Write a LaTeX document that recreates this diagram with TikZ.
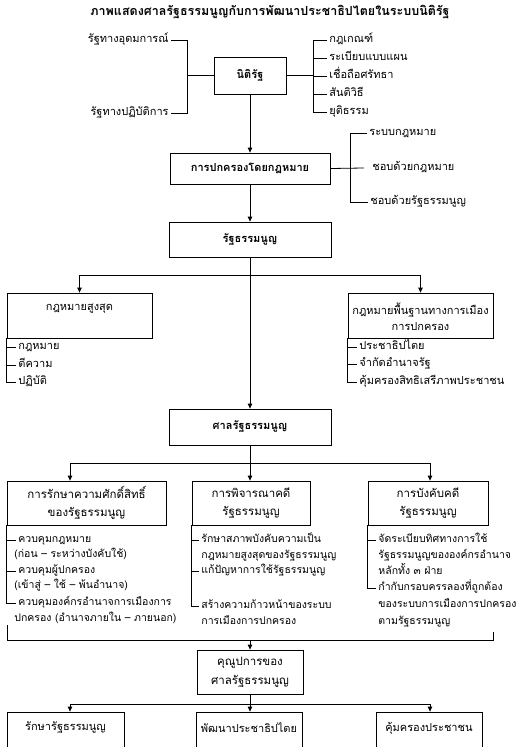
\documentclass[tikz,border=0pt]{standalone}
\usepackage{fontspec}
\newfontfamily\thai[Script=Thai]{Loma}
\usetikzlibrary{arrows.meta}
\newcommand\myfs[2]{\fontsize{#1}{#2}\selectfont}
\begin{document}
\begin{tikzpicture}[x=1pt,y=-1pt,line width=0.8pt,
  every node/.style={font=\thai\myfs{10.5}{12}},
  box/.style={draw, inner sep=2pt, align=center},
  lab/.style={inner sep=2pt, text height=7pt, text depth=2.5pt},
  big/.style={font=\thai\myfs{11}{12}},
  bold/.style={font=\thai\bfseries\myfs{11}{12}},
  two/.style={font=\thai\myfs{11.5}{#1}},
  arr/.style={-{Triangle[length=5pt,width=4.5pt]}}]
\useasboundingbox (0,0) rectangle (524,747);
\clip (0,0) rectangle (524,747);

% title
\node[font=\thai\bfseries\myfs{12.5}{14}] (title) at (270,12) {ภาพแสดงศาลรัฐธรรมนูญกับการพัฒนาประชาธิปไตยในระบบนิติรัฐ};

% nitirat
\node[box,bold,minimum width=72,minimum height=37] (nit) at (250,75.5) {นิติรัฐ};
\node[lab,big,anchor=east] (ideo) at (171,40) {รัฐทางอุดมการณ์};
\node[lab,big,anchor=east] (prac) at (171,113) {รัฐทางปฏิบัติการ};
\coordinate (jlt) at (187,40);
\coordinate (jlb) at (187,113);
\draw (ideo.east) -- (jlt) -- (jlb) -- (prac.east);
\draw (jlt |- nit.west) -- (nit.west);

\coordinate (jrt) at (313,40);
\coordinate (jrb) at (313,112);
\draw (jrt) -- (jrb);
\draw (nit.east) -- (jrt |- nit.east);
\node[lab,big,anchor=west] (r1) at (327,40) {กฎเกณฑ์};
\node[lab,big,anchor=west] (r2) at (327,58) {ระเบียบแบบแผน};
\node[lab,big,anchor=west] (r3) at (327,76) {เชื่อถือศรัทธา};
\node[lab,big,anchor=west] (r4) at (327,94) {สันติวิธี};
\node[lab,big,anchor=west] (r5) at (327,112) {ยุติธรรม};
\foreach \n in {r1,r2,r3,r4,r5} \draw (jrt |- \n.west) -- (\n.west);

% rule of law
\node[box,bold,minimum width=160,minimum height=31] (rule) at (250,168.5) {การปกครองโดยกฎหมาย};
\draw[arr] (nit.south) -- (rule.north);
\node[lab,big,anchor=west] (q1) at (367,133) {ระบบกฎหมาย};
\node[lab,big,anchor=west] (q2) at (370,168) {ชอบด้วยกฎหมาย};
\node[lab,big,anchor=west] (q3) at (368,202) {ชอบด้วยรัฐธรรมนูญ};
\coordinate (kt) at (350,133);
\coordinate (kb) at (350,202);
\coordinate (km) at (364,168);
\draw (q1.west) -- (kt) -- (kb) -- (q3.west);
\draw (rule.east) -- (km);

% constitution
\node[box,bold,minimum width=162,minimum height=35] (const) at (250,239.5) {รัฐธรรมนูญ};
\draw[arr] (rule.south) -- (const.north);
\coordinate (b1) at (250,275);
\draw (const.south) -- (b1);

\node[box,minimum width=145,minimum height=45] (sup) at (79.5,315.5) {};
\node[big] (supt) at (79.5,309) {กฎหมายสูงสุด};
\node[box,minimum width=145,minimum height=45] (basic) at (420.5,315.5) {};
\node[font=\thai\myfs{11}{16},align=center] (bast) at (420.5,317) {กฎหมายพื้นฐานทางการเมือง\\การปกครอง};
\draw[arr] (b1) -| (sup.north);
\draw[arr] (b1) -| (basic.north);

\node[lab,big,anchor=west] (s1) at (16,347) {กฎหมาย};
\node[lab,big,anchor=west] (s2) at (16,365) {ตีความ};
\node[lab,big,anchor=west] (s3) at (16,382) {ปฏิบัติ};
\draw (sup.south west) |- (s3.west);
\foreach \n in {s1,s2} \draw (sup.south west |- \n.west) -- (\n.west);

\node[lab,big,anchor=west] (p1) at (357,347) {ประชาธิปไตย};
\node[lab,big,anchor=west] (p2) at (357,364) {จำกัดอำนาจรัฐ};
\node[lab,big,anchor=west] (p3) at (357,382) {คุ้มครองสิทธิเสรีภาพประชาชน};
\draw (basic.south west) |- (p3.west);
\foreach \n in {p1,p2} \draw (basic.south west |- \n.west) -- (\n.west);

% court
\node[box,bold,minimum width=162,minimum height=36] (court) at (250,427) {ศาลรัฐธรรมนูญ};
\draw[arr] (b1) -- (court.north);
\coordinate (c1) at (250,463);
\coordinate (cl) at (70,463);
\coordinate (cr) at (430,463);
\draw (court.south) -- (c1);
\draw (cl) -- (cr);

\node[box,two=18,minimum width=159,minimum height=44] (san) at (86.5,503) {การรักษาความศักดิ์สิทธิ์\\ของรัฐธรรมนูญ};
\node[box,two=18,minimum width=118,minimum height=44] (trial) at (251,503) {การพิจารณาคดี\\รัฐธรรมนูญ};
\node[box,two=18,minimum width=120,minimum height=44] (enf) at (428,503) {การบังคับคดี\\รัฐธรรมนูญ};
\draw[arr] (cl) -- (cl |- san.north);
\draw[arr] (c1) -- (c1 |- trial.north);
\draw[arr] (cr) -- (cr |- enf.north);

\node[lab,anchor=west] (a1) at (16,540) {ควบคุมกฎหมาย};
\node[lab,anchor=west] (a2) at (12,555) {(ก่อน – ระหว่างบังคับใช้)};
\node[lab,anchor=west] (a3) at (16,571) {ควบคุมผู้ปกครอง};
\node[lab,anchor=west] (a4) at (12,586) {(เข้าสู่ – ใช้ – พ้นอำนาจ)};
\node[lab,anchor=west] (a5) at (16,603) {ควบคุมองค์กรอำนาจการเมืองการ};
\node[lab,anchor=west] (a6) at (12,619) {ปกครอง (อำนาจภายใน – ภายนอก)};
\draw (san.south west) |- (a5.west);
\foreach \n in {a1,a3} \draw (san.south west |- \n.west) -- (\n.west);

\node[lab,anchor=west] (t1) at (199,540) {รักษาสภาพบังคับความเป็น};
\node[lab,anchor=west] (t2) at (199,556) {กฎหมายสูงสุดของรัฐธรรมนูญ};
\node[lab,anchor=west] (t3) at (199,571) {แก้ปัญหาการใช้รัฐธรรมนูญ};
\node[lab,anchor=west] (t4) at (199,606) {สร้างความก้าวหน้าของระบบ};
\node[lab,anchor=west] (t5) at (199,622) {การเมืองการปกครอง};
\draw (trial.south west) |- (t4.west);
\foreach \n in {t1,t3} \draw (trial.south west |- \n.west) -- (\n.west);

\node[lab,anchor=west] (e1) at (376,540) {จัดระเบียบทิศทางการใช้};
\node[lab,anchor=west] (e2) at (376,556) {รัฐธรรมนูญขององค์กรอำนาจ};
\node[lab,anchor=west] (e3) at (376,572) {หลักทั้ง ๓ ฝ่าย};
\node[lab,anchor=west] (e4) at (376,588) {กำกับกรอบครรลองที่ถูกต้อง};
\node[lab,anchor=west] (e5) at (376,605) {ของระบบการเมืองการปกครอง};
\node[lab,anchor=west] (e6) at (376,622) {ตามรัฐธรรมนูญ};
\draw (enf.south west) |- (e4.west);
\draw (enf.south west |- e1.west) -- (e1.west);

% bottom bracket
\coordinate (g1) at (7,625);
\coordinate (g2) at (7,640);
\coordinate (g3) at (493,640);
\coordinate (g4) at (493,632);
\coordinate (g0) at (250,640);
\draw (g1) -- (g2) -- (g3) -- (g4);

\node[box,two=19,minimum width=106,minimum height=44] (contrib) at (250,672) {คุณูปการของ\\ศาลรัฐธรรมนูญ};
\draw[arr] (g0) -- (contrib.north);
\coordinate (h0) at (250,704);
\coordinate (hl) at (70,704);
\coordinate (hr) at (430,704);
\draw (contrib.south) -- (h0);
\draw (hl) -- (hr);

\node[box,minimum width=117,minimum height=48] (keep) at (65.5,736) {};
\node[box,minimum width=106,minimum height=48] (dev) at (249,736) {};
\node[box,minimum width=106,minimum height=48] (prot) at (429,736) {};
\node[big] (keept) at (65.5,728) {รักษารัฐธรรมนูญ};
\node[big] (devt) at (249,728) {พัฒนาประชาธิปไตย};
\node[big] (prott) at (429,728) {คุ้มครองประชาชน};
\draw[arr] (hl) -- (hl |- keep.north);
\draw[arr] (h0) -- (h0 |- dev.north);
\draw[arr] (hr) -- (hr |- prot.north);
\end{tikzpicture}
\end{document}
